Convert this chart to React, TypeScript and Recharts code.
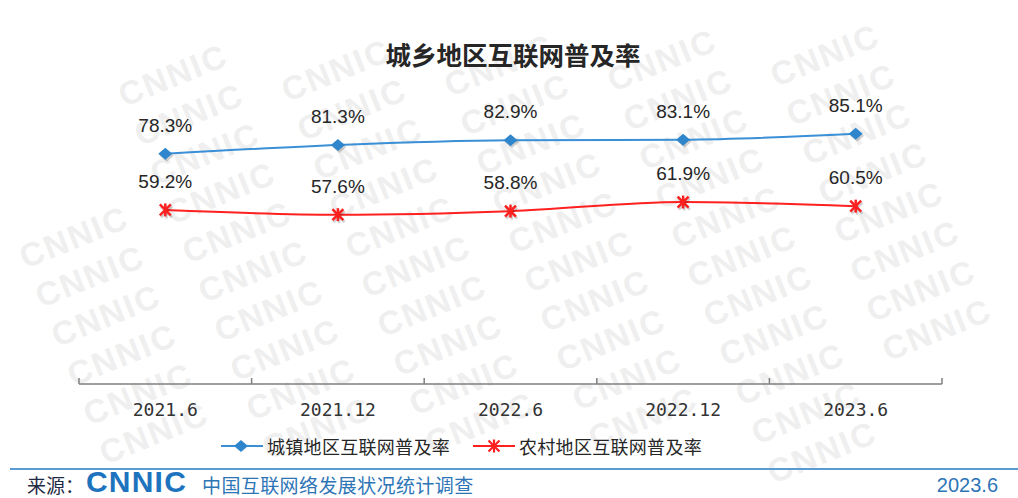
import React from 'react';
import { LineChart, Line, XAxis, YAxis, Legend, LabelList } from 'recharts';

const periods = ['2021.6', '2021.12', '2022.6', '2022.12', '2023.6'];
const urbanRates = [78.3, 81.3, 82.9, 83.1, 85.1];
const ruralRates = [59.2, 57.6, 58.8, 61.9, 60.5];
const urbanName = '城镇地区互联网普及率';
const ruralName = '农村地区互联网普及率';
const titleText = '城乡地区互联网普及率';
const sourceLabel = '来源：';
const sourceOrg = 'CNNIC';
const sourceSurvey = '中国互联网络发展状况统计调查';
const reportDate = '2023.6';

const data = periods.map((p, i) => ({ period: p, urban: urbanRates[i], rural: ruralRates[i] }));

const W = 1018;
const H = 498;
const BLUE = '#3A8FD6';
const BLUE_DOT = '#2F86CC';
const RED = '#FF2020';
const AXIS = '#7F7F7F';
const CJK = "'Noto Sans CJK SC', 'Noto Sans', sans-serif";
const LATIN = "'Liberation Sans', Arial, sans-serif";

const Diamond = ({ cx, cy, color }: { cx: number; cy: number; color: string }) => (
  <g>
    <polygon
      points={`${cx + 1.5},${cy - 4} ${cx + 8.5},${cy + 2} ${cx + 1.5},${cy + 8} ${cx - 5.5},${cy + 2}`}
      fill="rgba(0,0,0,0.18)"
    />
    <polygon points={`${cx},${cy - 6} ${cx + 7},${cy} ${cx},${cy + 6} ${cx - 7},${cy}`} fill={color} />
  </g>
);

const Asterisk = ({ cx, cy, color }: { cx: number; cy: number; color: string }) => {
  const r = 6.5;
  const d = 5.5;
  const shape = (ox: number, oy: number, c: string, w: number) => (
    <g stroke={c} strokeWidth={w} strokeLinecap="butt">
      <line x1={cx + ox} y1={cy + oy - r} x2={cx + ox} y2={cy + oy + r} />
      <line x1={cx + ox - d} y1={cy + oy - d} x2={cx + ox + d} y2={cy + oy + d} />
      <line x1={cx + ox - d} y1={cy + oy + d} x2={cx + ox + d} y2={cy + oy - d} />
    </g>
  );
  return (
    <g>
      {shape(1.2, 2, 'rgba(0,0,0,0.18)', 2.5)}
      {shape(0, 0, color, 2.5)}
    </g>
  );
};

const PeriodTick = (props: any) => {
  const { x, y, payload, width, visibleTicksCount, index } = props;
  let band = 0;
  if (typeof width === 'number' && visibleTicksCount) band = width / visibleTicksCount;
  else if (payload && typeof payload.offset === 'number') band = payload.offset * 2;
  const half = band / 2;
  const isLast = index === (visibleTicksCount || periods.length) - 1;
  return (
    <g>
      <line x1={x - half} x2={x - half} y1={y - 6} y2={y} stroke={AXIS} strokeWidth={1.5} />
      {isLast && <line x1={x + half} x2={x + half} y1={y - 6} y2={y} stroke={AXIS} strokeWidth={1.5} />}
      <text
        x={x}
        y={y + 32}
        textAnchor="middle"
        fontFamily="'DejaVu Sans Mono', monospace"
        fontSize={18}
        fill="#333333"
      >
        {payload.value}
      </text>
    </g>
  );
};

const LegendContent = () => (
  <div style={{ display: 'flex', alignItems: 'center', fontFamily: CJK, fontSize: 18, color: '#262626', whiteSpace: 'nowrap' }}>
    <svg width={42} height={20} style={{ display: 'block' }}>
      <line x1={0} y1={10} x2={42} y2={10} stroke={BLUE} strokeWidth={2} />
      <polygon points="20,4 27,10 20,16 13,10" fill={BLUE_DOT} />
    </svg>
    <span style={{ marginLeft: 4, letterSpacing: 0.3 }}>{urbanName}</span>
    <svg width={42} height={20} style={{ display: 'block', marginLeft: 23 }}>
      <line x1={0} y1={10} x2={42} y2={10} stroke={RED} strokeWidth={2} />
      <g stroke={RED} strokeWidth={2.2}>
        <line x1={21} y1={3.5} x2={21} y2={16.5} />
        <line x1={15.5} y1={4.5} x2={26.5} y2={15.5} />
        <line x1={15.5} y1={15.5} x2={26.5} y2={4.5} />
      </g>
    </svg>
    <span style={{ marginLeft: 4, letterSpacing: 0.3 }}>{ruralName}</span>
  </div>
);

const Watermarks = () => {
  const items: React.ReactNode[] = [];
  for (let i = -2; i <= 13; i++) {
    for (let j = -3; j <= 7; j++) {
      const cx = 157 + 163 * j + 16 * i;
      const cy = 36 + 39.2 * i - 5 * j;
      if (cx < 72 || cx > W - 72 || cy < 44 || cy > H - 44) continue;
      items.push(
        <text
          key={`${i}-${j}`}
          x={cx}
          y={cy}
          textAnchor="middle"
          dominantBaseline="central"
          fontFamily={LATIN}
          fontWeight={700}
          fontSize={33}
          letterSpacing={2}
          fill="#efefef"
          transform={`rotate(-22 ${cx} ${cy})`}
        >
          CNNIC
        </text>
      );
    }
  }
  return <g>{items}</g>;
};

export default function App() {
  return (
    <div style={{ position: 'absolute', left: 0, top: 0, width: W, height: H, background: '#ffffff', overflow: 'hidden' }}>
      <svg width={W} height={H} style={{ position: 'absolute', left: 0, top: 0 }}>
        <Watermarks />
        <text x={513} y={53} textAnchor="middle" dominantBaseline="central" fontFamily={CJK} fontWeight={700} fontSize={25.5} fill="#262626">
          {titleText}
        </text>
        <line x1={10} x2={W} y1={469} y2={469} stroke="#5B9BD5" strokeWidth={2} />
        <text x={27} y={484} dominantBaseline="central" fontFamily={CJK} fontSize={19} fill="#1F2A44">
          {sourceLabel}
        </text>
        <text x={86} y={492} fontFamily={LATIN} fontWeight={900} fontSize={30} letterSpacing={1.2} fill="#1E73BE">
          {sourceOrg}
        </text>
        <text x={202} y={484} dominantBaseline="central" fontFamily={CJK} fontSize={19} letterSpacing={0.4} fill="#2E75B6">
          {sourceSurvey}
        </text>
        <text x={998} y={485} textAnchor="end" dominantBaseline="central" fontFamily={LATIN} fontSize={20} fill="#2E75B6">
          {reportDate}
        </text>
      </svg>
      <div style={{ position: 'absolute', left: 0, top: 0 }}>
        <LineChart width={W} height={H} data={data} margin={{ top: 90, right: 76, bottom: 73, left: 79 }}>
          <XAxis
            xAxisId="cat"
            dataKey="period"
            type="category"
            scale="band"
            axisLine={{ stroke: AXIS, strokeWidth: 1.5 }}
            tickLine={false}
            tickSize={0}
            tickMargin={0}
            tick={<PeriodTick />}
            height={41}
            interval={0}
          />
          <YAxis hide domain={[0, 100]} />
          <Legend
            layout="horizontal"
            verticalAlign="middle"
            align="center"
            content={() => <LegendContent />}
            wrapperStyle={{ position: 'absolute', left: 221, top: 433, width: 'auto', height: 20 }}
          />
          <Line
            xAxisId="cat"
            type="monotone"
            dataKey="urban"
            name={urbanName}
            stroke={BLUE}
            strokeWidth={2}
            dot={(p: any) => <Diamond key={`u-${p.index}`} cx={p.cx} cy={p.cy} color={BLUE_DOT} />}
            activeDot={false}
            isAnimationActive={false}
          >
            <LabelList
              dataKey="urban"
              position="top"
              offset={22}
              formatter={(v: any) => `${Number(v).toFixed(1)}%`}
              style={{ fontFamily: LATIN, fontSize: 19, fill: '#262626' }}
            />
          </Line>
          <Line
            xAxisId="cat"
            type="monotone"
            dataKey="rural"
            name={ruralName}
            stroke={RED}
            strokeWidth={2}
            dot={(p: any) => <Asterisk key={`r-${p.index}`} cx={p.cx} cy={p.cy} color={RED} />}
            activeDot={false}
            isAnimationActive={false}
          >
            <LabelList
              dataKey="rural"
              position="top"
              offset={22}
              formatter={(v: any) => `${Number(v).toFixed(1)}%`}
              style={{ fontFamily: LATIN, fontSize: 19, fill: '#262626' }}
            />
          </Line>
        </LineChart>
      </div>
    </div>
  );
}
